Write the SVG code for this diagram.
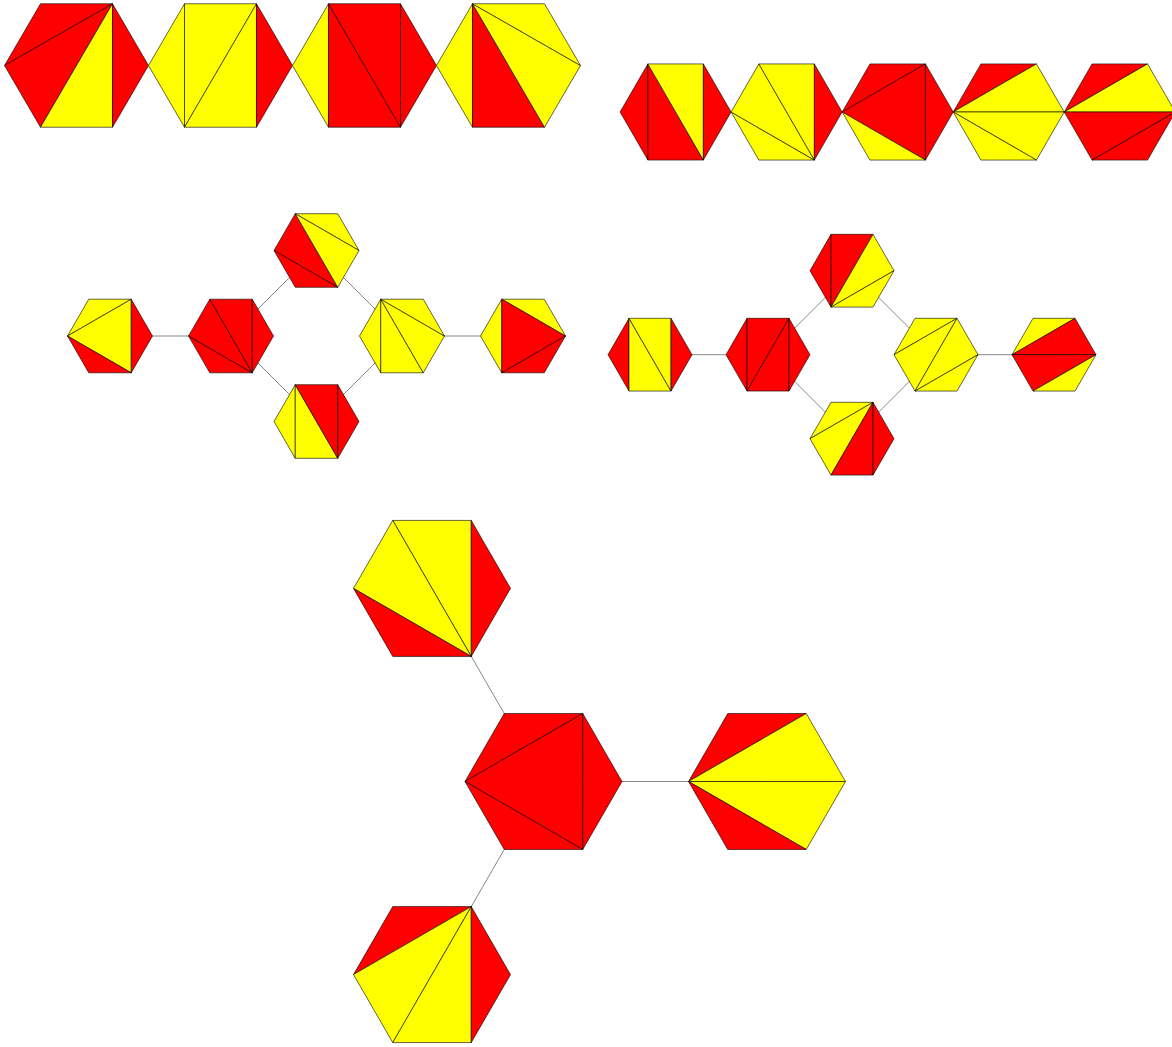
<svg xmlns="http://www.w3.org/2000/svg" width="1172" height="1047" viewBox="0 0 1172 1047">
<style>
.r{fill:#ff0000}
.y{fill:#ffff00}
polygon{stroke:#000;stroke-opacity:0.6;stroke-width:1;vector-effect:non-scaling-stroke;stroke-linejoin:round}
.edges line{stroke:#888;stroke-width:1}
</style>
<rect width="1172" height="1047" fill="#fff"/>
<g class="edges" id="connectors">
<line x1="110" y1="336" x2="231" y2="336"/>
<line x1="231" y1="336" x2="316.5" y2="250.5"/>
<line x1="231" y1="336" x2="316.5" y2="421.5"/>
<line x1="316.5" y1="250.5" x2="402" y2="336"/>
<line x1="316.5" y1="421.5" x2="402" y2="336"/>
<line x1="402" y1="336" x2="523" y2="336"/>
<line x1="650" y1="354.7" x2="768" y2="354.7"/>
<line x1="768" y1="354.7" x2="852" y2="270.7"/>
<line x1="768" y1="354.7" x2="852" y2="438.7"/>
<line x1="852" y1="270.7" x2="936" y2="354.7"/>
<line x1="852" y1="438.7" x2="936" y2="354.7"/>
<line x1="936" y1="354.7" x2="1054" y2="354.7"/>
<line x1="543.5" y1="781.5" x2="432" y2="588.4"/>
<line x1="543.5" y1="781.5" x2="767" y2="781.5"/>
<line x1="543.5" y1="781.5" x2="432" y2="974.6"/>
</g>
<!-- top-left row -->
<g id="t1" transform="translate(76.5,65.5) scale(72,71.3)">
<polygon class="r" points=".5,-.866 -.5,-.866 -1,0"/>
<polygon class="r" points=".5,-.866 -1,0 -.5,.866"/>
<polygon class="y" points=".5,-.866 -.5,.866 .5,.866"/>
<polygon class="r" points=".5,-.866 .5,.866 1,0"/>
</g>
<g id="t2" transform="translate(220.5,65.5) scale(72,71.3)">
<polygon class="y" points="-1,0 -.5,-.866 -.5,.866"/>
<polygon class="y" points="-.5,-.866 .5,-.866 -.5,.866"/>
<polygon class="y" points=".5,-.866 .5,.866 -.5,.866"/>
<polygon class="r" points=".5,-.866 1,0 .5,.866"/>
</g>
<g id="t3" transform="translate(364.5,65.5) scale(72,71.3)">
<polygon class="y" points="-1,0 -.5,-.866 -.5,.866"/>
<polygon class="r" points="-.5,-.866 .5,.866 -.5,.866"/>
<polygon class="r" points="-.5,-.866 .5,-.866 .5,.866"/>
<polygon class="r" points=".5,-.866 1,0 .5,.866"/>
</g>
<g id="t4" transform="translate(508.5,65.5) scale(72,71.3)">
<polygon class="y" points="-1,0 -.5,-.866 -.5,.866"/>
<polygon class="r" points="-.5,-.866 .5,.866 -.5,.866"/>
<polygon class="y" points="-.5,-.866 1,0 .5,.866"/>
<polygon class="y" points="-.5,-.866 .5,-.866 1,0"/>
</g>
<!-- top-right row -->
<g id="a1" transform="translate(675.6,112) scale(55.5)">
<polygon class="r" points="-1,0 -.5,-.866 -.5,.866"/>
<polygon class="r" points="-.5,-.866 .5,.866 -.5,.866"/>
<polygon class="y" points="-.5,-.866 .5,-.866 .5,.866"/>
<polygon class="r" points=".5,-.866 1,0 .5,.866"/>
</g>
<g id="a2" transform="translate(786.6,112) scale(55.5)">
<polygon class="y" points=".5,.866 -.5,.866 -1,0"/>
<polygon class="y" points=".5,.866 -1,0 -.5,-.866"/>
<polygon class="y" points=".5,.866 -.5,-.866 .5,-.866"/>
<polygon class="r" points=".5,.866 .5,-.866 1,0"/>
</g>
<g id="a3" transform="translate(897.7,112) scale(55.5)">
<polygon class="r" points="-1,0 -.5,-.866 .5,-.866"/>
<polygon class="r" points="-1,0 .5,-.866 .5,.866"/>
<polygon class="y" points="-1,0 .5,.866 -.5,.866"/>
<polygon class="r" points=".5,-.866 1,0 .5,.866"/>
</g>
<g id="a4" transform="translate(1008.7,112) scale(55.5)">
<polygon class="r" points="-1,0 -.5,-.866 .5,-.866"/>
<polygon class="y" points="-1,0 .5,-.866 1,0"/>
<polygon class="y" points="-1,0 1,0 .5,.866"/>
<polygon class="y" points="-1,0 .5,.866 -.5,.866"/>
</g>
<g id="a5" transform="translate(1119.8,112) scale(55.5)">
<polygon class="r" points="-1,0 -.5,-.866 .5,-.866"/>
<polygon class="y" points="-1,0 .5,-.866 1,0"/>
<polygon class="r" points="-1,0 1,0 -.5,.866"/>
<polygon class="r" points="1,0 .5,.866 -.5,.866"/>
</g>
<!-- middle-left graph -->
<g id="l1" transform="translate(110,336) scale(42.5)">
<polygon class="y" points="-1,0 -.5,-.866 .5,-.866"/>
<polygon class="y" points="-1,0 .5,-.866 .5,.866"/>
<polygon class="r" points="-1,0 .5,.866 -.5,.866"/>
<polygon class="r" points=".5,-.866 1,0 .5,.866"/>
</g>
<g id="l2" transform="translate(231,336) scale(42.5)">
<polygon class="r" points=".5,.866 -.5,.866 -1,0"/>
<polygon class="r" points=".5,.866 -1,0 -.5,-.866"/>
<polygon class="r" points=".5,.866 -.5,-.866 .5,-.866"/>
<polygon class="r" points=".5,.866 .5,-.866 1,0"/>
</g>
<g id="l3" transform="translate(316.5,250.5) scale(42.5)">
<polygon class="r" points="-1,0 -.5,-.866 .5,.866"/>
<polygon class="r" points="-1,0 .5,.866 -.5,.866"/>
<polygon class="y" points="-.5,-.866 .5,-.866 1,0"/>
<polygon class="y" points="-.5,-.866 1,0 .5,.866"/>
</g>
<g id="l4" transform="translate(316.5,421.5) scale(42.5)">
<polygon class="y" points="-1,0 -.5,-.866 -.5,.866"/>
<polygon class="y" points="-.5,-.866 .5,.866 -.5,.866"/>
<polygon class="r" points="-.5,-.866 .5,-.866 .5,.866"/>
<polygon class="r" points=".5,-.866 1,0 .5,.866"/>
</g>
<g id="l5" transform="translate(402,336) scale(42.5)">
<polygon class="y" points="-.5,-.866 -.5,.866 -1,0"/>
<polygon class="y" points="-.5,-.866 .5,.866 -.5,.866"/>
<polygon class="y" points="-.5,-.866 1,0 .5,.866"/>
<polygon class="y" points="-.5,-.866 .5,-.866 1,0"/>
</g>
<g id="l6" transform="translate(523,336) scale(42.5)">
<polygon class="y" points="-1,0 -.5,-.866 -.5,.866"/>
<polygon class="y" points="-.5,-.866 .5,-.866 1,0"/>
<polygon class="r" points="-.5,-.866 1,0 -.5,.866"/>
<polygon class="r" points="1,0 .5,.866 -.5,.866"/>
</g>
<!-- middle-right graph -->
<g id="r1" transform="translate(650,354.7) scale(42)">
<polygon class="r" points="-1,0 -.5,-.866 -.5,.866"/>
<polygon class="y" points="-.5,-.866 .5,.866 -.5,.866"/>
<polygon class="y" points="-.5,-.866 .5,-.866 .5,.866"/>
<polygon class="r" points=".5,-.866 1,0 .5,.866"/>
</g>
<g id="r2" transform="translate(768,354.7) scale(42)">
<polygon class="r" points="-1,0 -.5,-.866 -.5,.866"/>
<polygon class="r" points="-.5,-.866 .5,-.866 -.5,.866"/>
<polygon class="r" points=".5,-.866 .5,.866 -.5,.866"/>
<polygon class="r" points=".5,-.866 1,0 .5,.866"/>
</g>
<g id="r3" transform="translate(852,270.7) scale(42)">
<polygon class="r" points="-.5,.866 -1,0 -.5,-.866"/>
<polygon class="r" points="-.5,.866 -.5,-.866 .5,-.866"/>
<polygon class="y" points="-.5,.866 .5,-.866 1,0"/>
<polygon class="y" points="-.5,.866 1,0 .5,.866"/>
</g>
<g id="r4" transform="translate(852,438.7) scale(42)">
<polygon class="y" points=".5,-.866 -1,0 -.5,-.866"/>
<polygon class="y" points=".5,-.866 -.5,.866 -1,0"/>
<polygon class="r" points=".5,-.866 .5,.866 -.5,.866"/>
<polygon class="r" points=".5,-.866 1,0 .5,.866"/>
</g>
<g id="r5" transform="translate(936,354.7) scale(42)">
<polygon class="y" points="-1,0 -.5,-.866 .5,-.866"/>
<polygon class="y" points=".5,-.866 -.5,.866 -1,0"/>
<polygon class="y" points=".5,-.866 1,0 -.5,.866"/>
<polygon class="y" points="1,0 .5,.866 -.5,.866"/>
</g>
<g id="r6" transform="translate(1054,354.7) scale(42)">
<polygon class="y" points="-1,0 -.5,-.866 .5,-.866"/>
<polygon class="r" points="-1,0 .5,-.866 1,0"/>
<polygon class="r" points="-1,0 1,0 -.5,.866"/>
<polygon class="y" points="1,0 .5,.866 -.5,.866"/>
</g>
<!-- bottom graph -->
<g id="b1" transform="translate(432,588.4) scale(78.5)">
<polygon class="y" points=".5,.866 -.5,-.866 .5,-.866"/>
<polygon class="y" points=".5,.866 -1,0 -.5,-.866"/>
<polygon class="r" points=".5,.866 -.5,.866 -1,0"/>
<polygon class="r" points=".5,.866 .5,-.866 1,0"/>
</g>
<g id="b2" transform="translate(543.5,781.5) scale(78.5)">
<polygon class="r" points="-1,0 -.5,-.866 .5,-.866"/>
<polygon class="r" points="-1,0 .5,-.866 .5,.866"/>
<polygon class="r" points="-1,0 .5,.866 -.5,.866"/>
<polygon class="r" points=".5,-.866 1,0 .5,.866"/>
</g>
<g id="b3" transform="translate(767,781.5) scale(78.5)">
<polygon class="r" points="-1,0 -.5,-.866 .5,-.866"/>
<polygon class="y" points="-1,0 .5,-.866 1,0"/>
<polygon class="y" points="-1,0 1,0 .5,.866"/>
<polygon class="r" points="-1,0 .5,.866 -.5,.866"/>
</g>
<g id="b4" transform="translate(432,974.6) scale(78.5)">
<polygon class="r" points=".5,-.866 -1,0 -.5,-.866"/>
<polygon class="y" points=".5,-.866 -.5,.866 -1,0"/>
<polygon class="y" points=".5,-.866 .5,.866 -.5,.866"/>
<polygon class="r" points=".5,-.866 1,0 .5,.866"/>
</g>
</svg>
